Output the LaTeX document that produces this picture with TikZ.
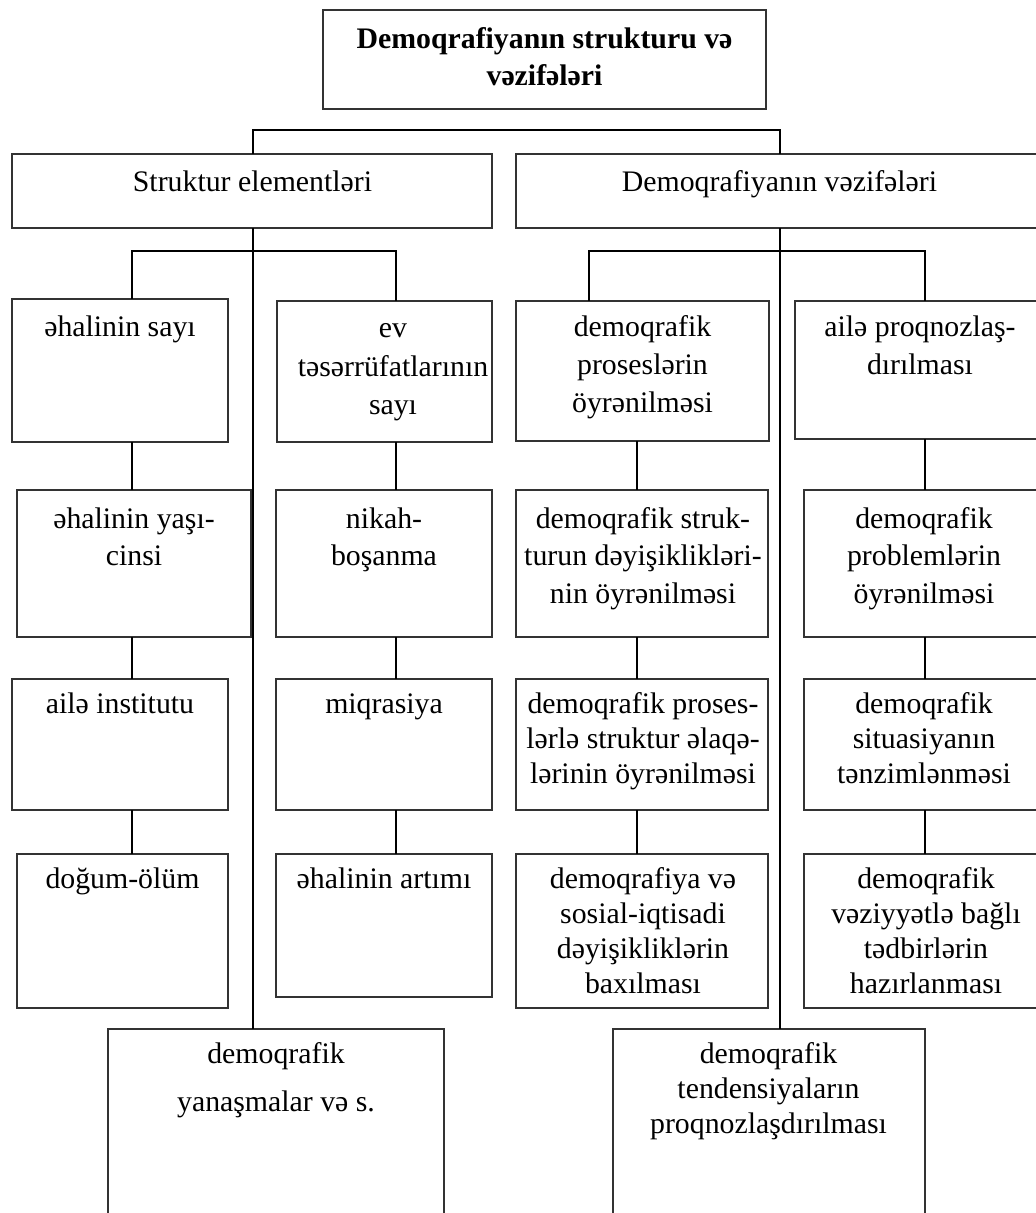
\documentclass[tikz,border=0pt]{standalone}
\usepackage{fontspec}
\setmainfont{Liberation Serif}
\newcommand{\rbox}[5]{\node[box, minimum width={(#4-#2)*0.5pt}, minimum height={(#5-#3)*0.5pt}] (#1) at ({(#2+#4)/2},{(#3+#5)/2}) {};}
\newcommand{\tl}[2]{\fontsize{14.9pt}{#1}\selectfont\begin{tabular}[t]{@{}c@{}}#2\end{tabular}}
\begin{document}
\begin{tikzpicture}[x=0.5pt,y=-0.5pt,
  box/.style={draw=black!80, line width=0.6pt, inner sep=0pt, outer sep=0pt},
  conn/.style={line width=1pt, black},
  lbl/.style={anchor=base, inner sep=0pt, outer sep=0pt}]
\useasboundingbox[fill=white] (0,0) rectangle (1035,1213);
% boxes
\rbox{T}{323}{10}{766}{109}
\rbox{L2a}{12}{154}{492}{228}
\rbox{L2b}{516}{154}{1045}{228}
\rbox{A1}{12}{299}{228}{442}
\rbox{B1}{277}{301}{492}{442}
\rbox{C1}{516}{301}{769}{441}
\rbox{D1}{795}{301}{1045}{439}
\rbox{A2}{17}{490}{251}{637}
\rbox{B2}{276}{490}{492}{637}
\rbox{C2}{516}{490}{768}{637}
\rbox{D2}{804}{490}{1046}{637}
\rbox{A3}{12}{679}{228}{810}
\rbox{B3}{276}{679}{492}{810}
\rbox{C3}{516}{679}{768}{810}
\rbox{D3}{804}{679}{1046}{810}
\rbox{A4}{17}{854}{228}{1008}
\rbox{B4}{276}{854}{492}{997}
\rbox{C4}{516}{854}{768}{1008}
\rbox{D4}{804}{854}{1046}{1008}
\rbox{E}{108}{1029}{444}{1240}
\rbox{F}{613}{1029}{925}{1240}
% texts
\node[lbl,font=\bfseries] (tT) at (544.5,49) {\tl{18.5pt}{Demoqrafiyanın strukturu və\\vəzifələri}};
\node[lbl] (tL2a) at (252.5,192) {\tl{19pt}{Struktur elementləri}};
\node[lbl] (tL2b) at (779.5,192) {\tl{19pt}{Demoqrafiyanın vəzifələri}};
\node[lbl] (tA1) at (120,337) {\tl{19pt}{əhalinin sayı}};
\node[lbl] (tB1) at (393,338) {\tl{19.25pt}{ev\\təsərrüfatlarının\\sayı}};
\node[lbl] (tC1) at (642.5,337) {\tl{19pt}{demoqrafik\\proseslərin\\öyrənilməsi}};
\node[lbl] (tD1) at (920,337) {\tl{19pt}{ailə proqnozlaş-\\dırılması}};
\node[lbl] (tA2) at (134,528) {\tl{18.5pt}{əhalinin yaşı-\\cinsi}};
\node[lbl] (tB2) at (384,528) {\tl{18.5pt}{nikah-\\boşanma}};
\node[lbl] (tC2) at (643,528) {\tl{18.75pt}{demoqrafik struk-\\turun dəyişiklikləri-\\nin öyrənilməsi}};
\node[lbl] (tD2) at (924,528) {\tl{18.75pt}{demoqrafik\\problemlərin\\öyrənilməsi}};
\node[lbl] (tA3) at (120,713) {\tl{17.5pt}{ailə institutu}};
\node[lbl] (tB3) at (384,713) {\tl{17.5pt}{miqrasiya}};
\node[lbl] (tC3) at (643,713) {\tl{17.5pt}{demoqrafik proses-\\lərlə struktur əlaqə-\\lərinin öyrənilməsi}};
\node[lbl] (tD3) at (924,713) {\tl{17.5pt}{demoqrafik\\situasiyanın\\tənzimlənməsi}};
\node[lbl] (tA4) at (122.5,888) {\tl{17.5pt}{doğum-ölüm}};
\node[lbl] (tB4) at (384,888) {\tl{17.5pt}{əhalinin artımı}};
\node[lbl] (tC4) at (643,888) {\tl{17.5pt}{demoqrafiya və\\sosial-iqtisadi\\dəyişikliklərin\\baxılması}};
\node[lbl] (tD4) at (926,888) {\tl{17.5pt}{demoqrafik\\vəziyyətlə bağlı\\tədbirlərin\\hazırlanması}};
\node[lbl] (tE) at (276,1063) {\tl{24pt}{demoqrafik\\yanaşmalar və s.}};
\node[lbl] (tF) at (768.5,1063) {\tl{17.5pt}{demoqrafik\\tendensiyaların\\proqnozlaşdırılması}};
% helper coordinates
\coordinate (j1) at (253,0);
\coordinate (j2) at (780,0);
\coordinate (xA) at (132,0);
\coordinate (xB) at (396,0);
\coordinate (xCb) at (589,0);
\coordinate (xC) at (637,0);
\coordinate (xD) at (925,0);
\coordinate (hT) at (0,130);
\coordinate (hL) at (0,251);
% connectors
\draw[conn] (L2a.north -| j1) -- (j1 |- hT) -- (j2 |- hT) -- (L2b.north -| j2);
\draw[conn] (L2a.south -| j1) -- (E.north -| j1);
\draw[conn] (L2b.south -| j2) -- (F.north -| j2);
\draw[conn] (A1.north -| xA) -- (xA |- hL) -- (xB |- hL) -- (B1.north -| xB);
\draw[conn] (C1.north -| xCb) -- (xCb |- hL) -- (xD |- hL) -- (D1.north -| xD);
\draw[conn] (A1.south -| xA) -- (A2.north -| xA);
\draw[conn] (A2.south -| xA) -- (A3.north -| xA);
\draw[conn] (A3.south -| xA) -- (A4.north -| xA);
\draw[conn] (B1.south -| xB) -- (B2.north -| xB);
\draw[conn] (B2.south -| xB) -- (B3.north -| xB);
\draw[conn] (B3.south -| xB) -- (B4.north -| xB);
\draw[conn] (C1.south -| xC) -- (C2.north -| xC);
\draw[conn] (C2.south -| xC) -- (C3.north -| xC);
\draw[conn] (C3.south -| xC) -- (C4.north -| xC);
\draw[conn] (D1.south -| xD) -- (D2.north -| xD);
\draw[conn] (D2.south -| xD) -- (D3.north -| xD);
\draw[conn] (D3.south -| xD) -- (D4.north -| xD);
\end{tikzpicture}
\end{document}
